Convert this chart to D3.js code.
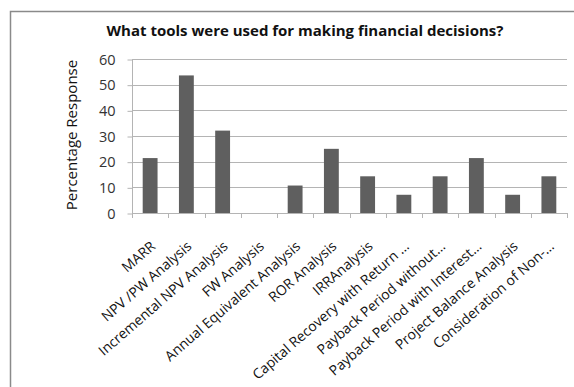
<!DOCTYPE html>
<html>
<head>
<meta charset="utf-8">
<script src="https://cdn.jsdelivr.net/npm/d3@7"></script>
<style>
  body { margin: 0; background: #fff; }
  svg { display: block; }
</style>
</head>
<body>
<svg id="chart" width="574" height="387"></svg>
<script>
// categorias y valores (% de respuestas)
var categories = ["MARR", "NPV /PW Analysis", "Incremental NPV Analysis", "FW Analysis",
    "Annual Equivalent Analysis", "ROR Analysis", "IRRAnalysis", "Capital Recovery with Return \u2026",
    "Payback Period without\u2026", "Payback Period with Interest\u2026", "Project Balance Analysis",
    "Consideration of Non-\u2026"];
var values = [21.4, 53.6, 32.1, 0, 10.7, 25, 14.3, 7.1, 14.3, 21.4, 7.1, 14.3];
var yTicks = [0, 10, 20, 30, 40, 50, 60];

var svg = d3.select("#chart");
var fnt = "'Open Sans', 'DejaVu Sans', sans-serif";

// marco exterior
svg.append("rect")
    .attr("x", 10.5).attr("y", 11.5)
    .attr("width", 600).attr("height", 400)
    .style("fill", "none").style("stroke", "#8a8a8a").style("stroke-width", 1.5);

var pLeft = 132, pRight = 567, pTop = 59, pBottom = 213;

var x = d3.scaleBand().domain(categories).range([pLeft, pRight]).paddingInner(0.59).paddingOuter(0.295);
var y = d3.scaleLinear().domain([0, 60]).range([pBottom, pTop]);

// rejilla
svg.selectAll(".grid")
    .data(yTicks.filter(function(d) {return d > 0;}))
    .enter()
    .append("line")
    .attr("class", "grid")
    .attr("x1", pLeft).attr("x2", pRight)
    .attr("y1", function(d) {return Math.round(y(d)) + 0.5;})
    .attr("y2", function(d) {return Math.round(y(d)) + 0.5;})
    .style("stroke", "#b4b4b4").style("stroke-width", 1);

// eje y
var yAxis = svg.append("g")
    .attr("transform", "translate(" + (pLeft + 0.5) + ",0.5)")
    .call(d3.axisLeft(y).tickValues(yTicks).tickSize(5).tickPadding(12));
yAxis.select(".domain").attr("d", "M0," + pTop + "V" + pBottom).style("stroke", "#b4b4b4");
yAxis.selectAll(".tick line").style("stroke", "#b4b4b4");
yAxis.selectAll(".tick text")
    .style("font-family", fnt).style("font-size", "14.5px").style("fill", "#333");

// eje x (marcas entre categorias)
var xEdges = d3.range(categories.length + 1).map(function(i) {return pLeft + i * (pRight - pLeft) / categories.length;});
svg.append("line")
    .attr("x1", pLeft).attr("x2", pRight)
    .attr("y1", Math.round(pBottom) + 0.5).attr("y2", Math.round(pBottom) + 0.5)
    .style("stroke", "#b4b4b4");
svg.selectAll(".xt")
    .data(xEdges)
    .enter()
    .append("line")
    .attr("class", "xt")
    .attr("x1", function(d) {return Math.round(d) + 0.5;})
    .attr("x2", function(d) {return Math.round(d) + 0.5;})
    .attr("y1", pBottom).attr("y2", pBottom + 5)
    .style("stroke", "#b4b4b4");

// barras
svg.selectAll(".bar")
    .data(values)
    .enter()
    .append("rect")
    .attr("class", "bar")
    .attr("x", function(d, i) {return x(categories[i]);})
    .attr("width", x.bandwidth())
    .attr("y", function(d) {return y(d);})
    .attr("height", function(d) {return pBottom - y(d);})
    .style("fill", "#5f5f5f");

// etiquetas categorias
svg.selectAll(".xl")
    .data(categories)
    .enter()
    .append("text")
    .attr("class", "xl")
    .attr("transform", function(d) {
        var cx = x(d) + x.bandwidth() / 2;
        return "translate(" + (cx + 3) + "," + (pBottom + 31) + ") rotate(-41)";
    })
    .attr("text-anchor", "end")
    .attr("dy", "0.35em")
    .style("font-family", fnt).style("font-size", "14px").style("fill", "#111")
    .text(function(d) {return d;});

// titulo
svg.append("text")
    .attr("x", 305).attr("y", 36)
    .attr("text-anchor", "middle")
    .style("font-family", fnt).style("font-size", "15px").style("font-weight", "bold")
    .style("fill", "#111")
    .text("What tools were used for making financial decisions?");

// titulo eje y
svg.append("text")
    .attr("transform", "translate(77,135) rotate(-90)")
    .attr("text-anchor", "middle")
    .style("font-family", fnt).style("font-size", "15px").style("fill", "#111")
    .text("Percentage  Response");
</script>
</body>
</html>
